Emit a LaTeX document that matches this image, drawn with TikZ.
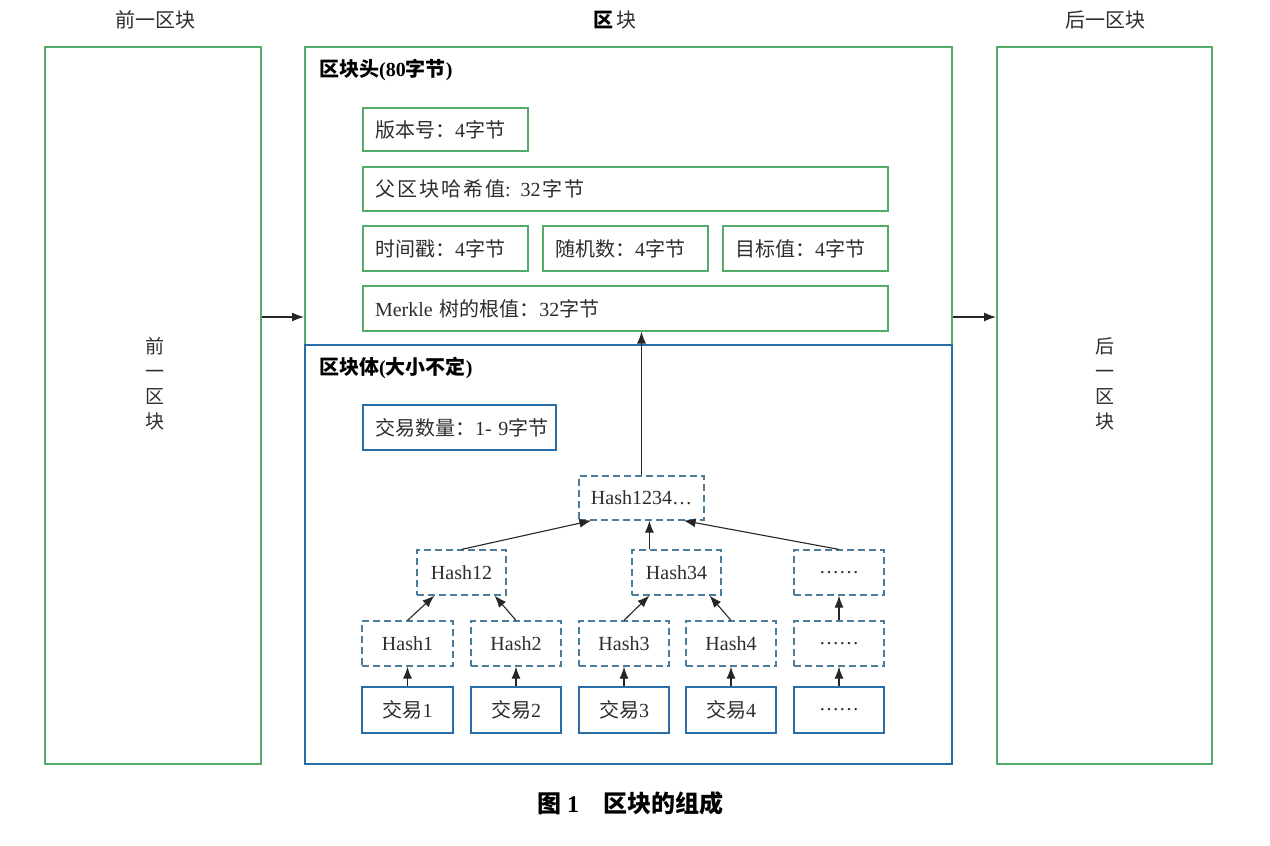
\documentclass[tikz,border=0pt]{standalone}
\usepackage{fontspec}
\setmainfont{Liberation Serif}
\newfontfamily\cjk{Noto Sans CJK SC}
\usetikzlibrary{arrows.meta,calc}
\definecolor{gline}{RGB}{85,172,105}
\definecolor{bline}{RGB}{40,108,168}
\definecolor{dline}{RGB}{75,125,155}
\definecolor{txt}{RGB}{45,45,45}
\newcommand\zh[1]{{\cjk #1}}
\newcommand\myskip{\kern2pt}
\begin{document}
\begin{tikzpicture}[x=1pt,y=-1pt,
  every node/.style={font=\fontsize{20}{23}\selectfont,text=txt},
  bigg/.style={draw=gline,line width=2,inner sep=0},
  hbox/.style={draw=gline,line width=1.2,inner xsep=12,inner ysep=0,align=left},
  bbox/.style={draw=bline,line width=1.2,inner xsep=12,inner ysep=0,align=left},
  dbox/.style={draw=dline,line width=1.2,dash pattern=on 7pt off 4pt,inner sep=0},
  sbox/.style={draw=bline,line width=1.2,inner sep=0},
  arr/.style={-{Latex[length=12,width=9]},line width=1.1,draw=black!85},
  ttl/.style={font=\fontsize{20}{23}\selectfont\bfseries,text=black,anchor=west,inner sep=0}]
\useasboundingbox (0,0) rectangle (1270,846);
\coordinate (lvl) at (0,317);
% big frames
\node[bigg,minimum width=216,minimum height=717] (prev) at (153,405.5) {};
\node[bigg,minimum width=647,minimum height=298] (head) at (628.5,196) {};
\node[draw=bline,line width=2,inner sep=0,minimum width=647,minimum height=419] (body) at (628.5,554.5) {};
\node[bigg,minimum width=215,minimum height=717] (next) at (1104.5,405.5) {};
% top labels
\node (lprev) at (155,20) {\zh{前一区块}};
\node (lblk) at (615,20) {\zh{{\bfseries\color{black}区}\,块}};
\node (lnext) at (1105,20) {\zh{后一区块}};
\node[align=center,font=\fontsize{19}{25}\selectfont] (vprev) at (155,383.5) {\zh{前}\\\zh{一}\\\zh{区}\\\zh{块}};
\node[align=center,font=\fontsize{19}{25}\selectfont] (vnext) at (1105,383.5) {\zh{后}\\\zh{一}\\\zh{区}\\\zh{块}};
% titles
\node[ttl] (thead) at (319,70) {\zh{区块头}(80\zh{字节})};
\node[ttl] (tbody) at (319,368) {\zh{区块体}(\zh{大小不定})};
% header fields
\node[hbox,text width=141,minimum height=43] (ver) at (445.5,129.5) {\zh{版本号：}4\zh{字节}};
\node[hbox,text width=501,minimum height=44] (par) at (625.5,189) {\zh{父\myskip 区\myskip 块\myskip 哈\myskip 希\myskip 值}: 32\myskip\zh{字\myskip 节}};
\node[hbox,text width=141,minimum height=45] (tim) at (445.5,248.5) {\zh{时间戳：}4\zh{字节}};
\node[hbox,text width=141,minimum height=45] (non) at (625.5,248.5) {\zh{随机数：}4\zh{字节}};
\node[hbox,text width=141,minimum height=45] (tgt) at (805.5,248.5) {\zh{目标值：}4\zh{字节}};
\node[hbox,text width=501,minimum height=45] (mrk) at (625.5,308.5) {Merkle \zh{树的根值：}32\zh{字节}};
% body
\node[bbox,text width=169,minimum height=45] (cnt) at (459.5,427.5) {\mbox{\zh{交易数量：}1-~9\zh{字节}}};
\node[dbox,minimum width=125,minimum height=44] (h1234) at (641.5,498) {Hash1234…};
\node[dbox,minimum width=89,minimum height=45] (h12) at (461.5,572.5) {Hash12};
\node[dbox,minimum width=89,minimum height=45] (h34) at (676.5,572.5) {Hash34};
\node[dbox,minimum width=90,minimum height=45] (hda) at (839,572.5) {……};
\node[dbox,minimum width=91,minimum height=45] (h1) at (407.5,643.5) {Hash1};
\node[dbox,minimum width=90,minimum height=45] (h2) at (516,643.5) {Hash2};
\node[dbox,minimum width=90,minimum height=45] (h3) at (624,643.5) {Hash3};
\node[dbox,minimum width=90,minimum height=45] (h4) at (731,643.5) {Hash4};
\node[dbox,minimum width=90,minimum height=45] (hdb) at (839,643.5) {……};
\node[sbox,minimum width=91,minimum height=46] (tx1) at (407.5,710) {\zh{交易}1};
\node[sbox,minimum width=90,minimum height=46] (tx2) at (516,710) {\zh{交易}2};
\node[sbox,minimum width=90,minimum height=46] (tx3) at (624,710) {\zh{交易}3};
\node[sbox,minimum width=90,minimum height=46] (tx4) at (731,710) {\zh{交易}4};
\node[sbox,minimum width=90,minimum height=46] (txd) at (839,710) {……};
% caption
\node[font=\fontsize{24}{28}\selectfont\bfseries,text=black] (cap) at (630,803) {\zh{图}~1\quad\zh{区块的组成}};
% connectors
\draw[arr] (prev.east |- lvl) -- (head.west |- lvl);
\draw[arr] (head.east |- lvl) -- (next.west |- lvl);
\draw[arr] (h1234.north) -- (h1234.north |- mrk.south);
\draw[arr] (h12.north) -- ($(h1234.south west)+(13,0)$);
\coordinate (c34) at ($(h34.north west)+(18,0)$);
\draw[arr] (c34) -- (c34 |- h1234.south);
\draw[arr] (hda.north) -- ($(h1234.south east)+(-21,0)$);
\draw[arr] (h1.north) -- ($(h12.south west)+(18,0)$);
\draw[arr] (h2.north) -- ($(h12.south east)+(-12,0)$);
\draw[arr] (h3.north) -- ($(h34.south west)+(18,0)$);
\draw[arr] (h4.north) -- ($(h34.south east)+(-12,0)$);
\draw[arr] (hdb.north) -- (hda.south);
\foreach \i in {1,2,3,4} {\draw[arr] (tx\i.north) -- (h\i.south);}
\draw[arr] (txd.north) -- (hdb.south);
\end{tikzpicture}
\end{document}
